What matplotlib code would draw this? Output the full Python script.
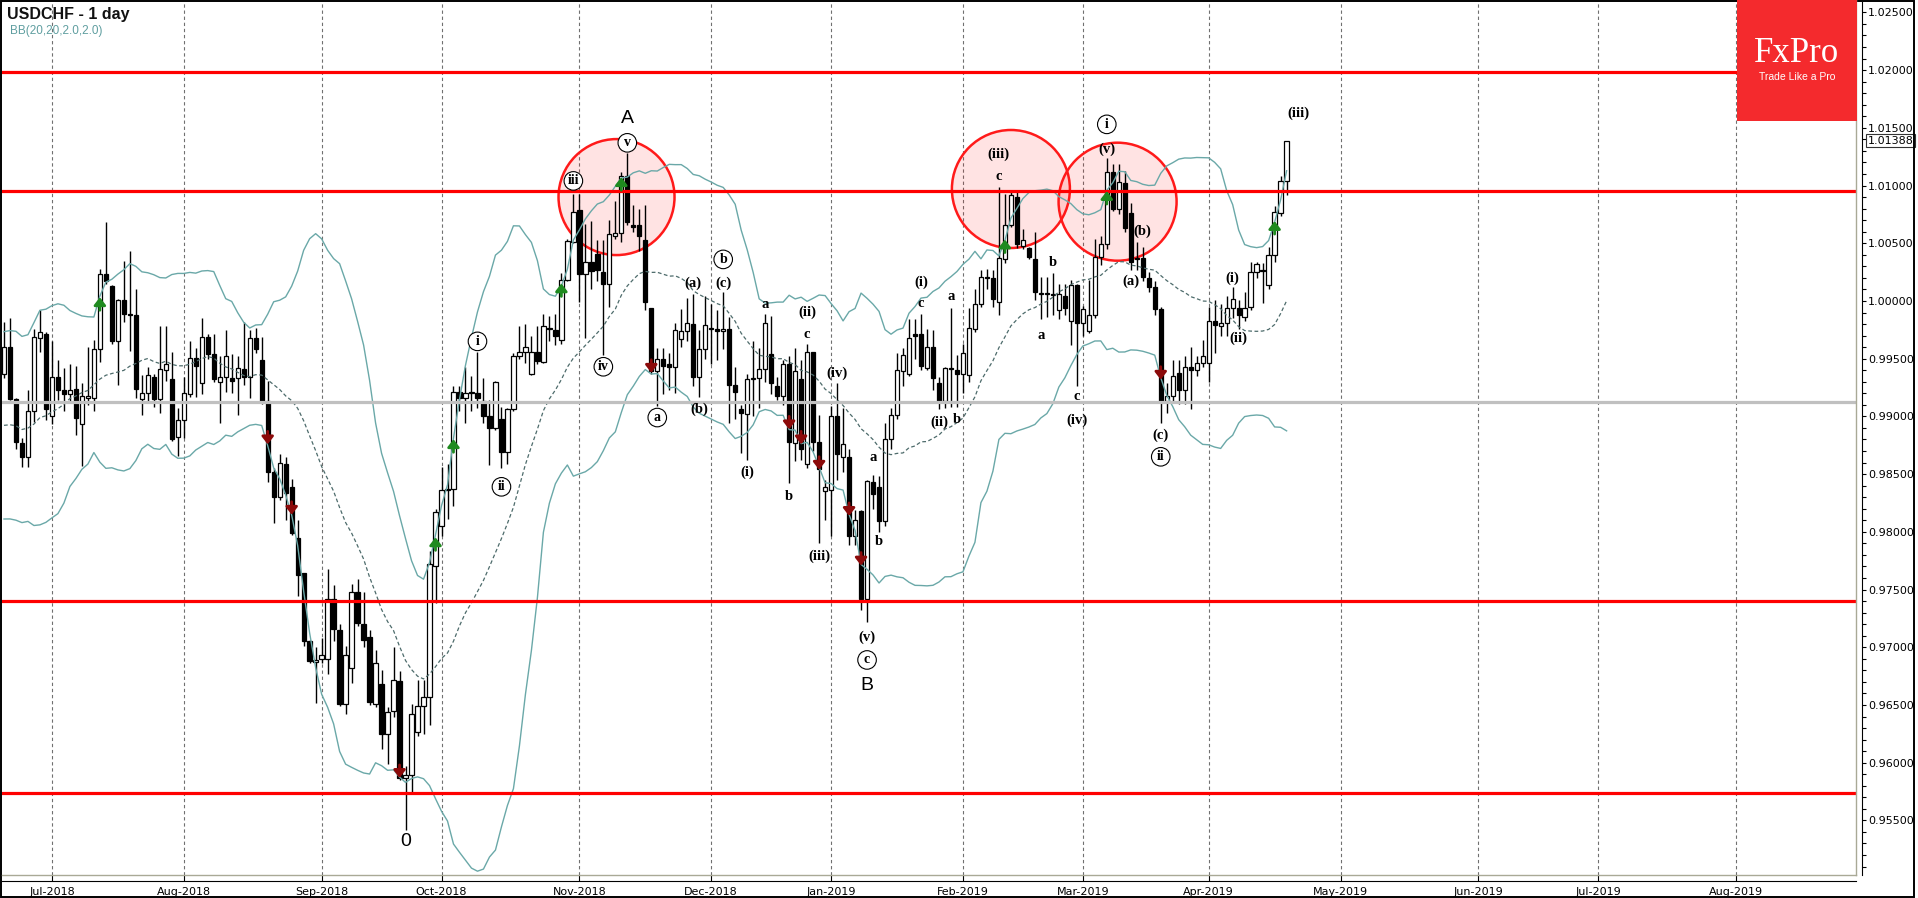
import matplotlib
matplotlib.use('Agg')
import matplotlib.pyplot as plt
import numpy as np
import pandas as pd
from matplotlib.patches import Ellipse, Rectangle
from matplotlib.lines import Line2D
from matplotlib.ticker import MultipleLocator
from matplotlib.transforms import blended_transform_factory

# closes before the first visible bar, only used to warm up the Bollinger bands
warmup_close = [0.9905, 0.9895, 0.9930, 0.9880, 0.9900, 0.9860, 0.9875, 0.9865, 0.9870, 0.9840,
                0.9825, 0.9855, 0.9860, 0.9880, 0.9860, 0.9925, 0.9950, 0.9935, 0.9975]

# daily candles from 2018-06-20 to 2019-04-18
opens = [
    .9937, .9960, .9915, .9877, .9865, .9905, .9968, .9971, .9900, .9934,
    .9923, .9919, .9924, .9893, .9916, .9916, .9958, 1.0023, 1.0013, .9965,
    1.0001, .9989, .9988, .9915, .9920, .9934, .9915, .9940, .9932, .9882,
    .9897, .9919, .9951, .9929, .9969, .9954, .9930, .9934, .9933, .9933,
    .9941, .9934, .9968, .9949, .9913, .9852, .9830, .9859, .9839, .9795,
    .9764, .9705, .9687, .9690, .9690, .9742, .9715, .9651, .9682, .9748,
    .9720, .9709, .9651, .9668, .9625, .9645, .9671, .9587, .9589, .9627,
    .9649, .9657, .9770, .9805, .9836, .9837, .9921, .9916, .9921, .9920,
    .9913, .9900, .9890, .9898, .9869, .9906, .9952, .9956, .9937, .9956,
    .9947, .9977, .9975, .9966, 1.0018, 1.0051, 1.0079, 1.0023, 1.0034, 1.0041,
    1.0025, 1.0015, 1.0056, 1.0059, 1.0108, 1.0066, 1.0066, 1.0053, .9994, .9939,
    .9950, .9945, .9943, .9967, .9974, .9980, .9934, .9958, .9977, .9976,
    .9974, .9976, .9927, .9906, .9902, .9932, .9933, .9941, .9954, .9926,
    .9918, .9945, .9877, .9932, .9859, .9956, .9878, .9835, .9836, .9900,
    .9865, .9865, .9796, .9818, .9742, .9843, .9839, .9809, .9880, .9901,
    .9939, .9937, .9971, .9971, .9942, .9960, .9929, .9913, .9942, .9940,
    .9937, .9936, .9976, .9997, 1.0021, 1.0020, .9999, 1.0036, 1.0066, 1.0090,
    1.0048, 1.0046, 1.0036, 1.0007, 1.0006, 1.0006, .9992, 1.0004, .9983, 1.0014,
    .9981, .9974, .9988, 1.0038, 1.0049, 1.0112, 1.0080, 1.0102, 1.0076, 1.0037,
    1.0037, 1.0020, 1.0012, .9993, .9913, .9918, .9938, .9923, .9943, .9940,
    .9946, .9946, .9983, .9978, .9981, .9994, .9994, .9986, .9995, 1.0025,
    1.0027, 1.0014, 1.0040, 1.0076, 1.0104,
]
highs = [
    .9982, .9985, .9916, .9881, .9923, .9976, .9992, .9973, .9965, .9949,
    .9942, .9945, .9944, .9929, .9960, .9966, 1.0028, 1.0068, 1.0014, 1.0002,
    1.0035, 1.0043, 1.0010, .9936, .9943, .9937, .9978, .9978, .9956, .9907,
    .9934, .9965, .9959, .9985, .9971, .9971, .9952, .9975, .9954, .9952,
    .9982, .9975, .9977, .9969, .9931, .9855, .9867, .9865, .9846, .9810,
    .9764, .9706, .9700, .9708, .9768, .9754, .9720, .9701, .9755, .9759,
    .9748, .9715, .9698, .9680, .9648, .9700, .9679, .9597, .9651, .9672,
    .9672, .9783, .9820, .9856, .9859, .9926, .9926, .9943, .9935, .9956,
    .9933, .9914, .9931, .9908, .9907, .9955, .9978, .9980, .9970, .9978,
    .9989, .9987, .9989, 1.0024, 1.0054, 1.0093, 1.0093, 1.0067, 1.0069, 1.0053,
    1.0053, 1.0070, 1.0087, 1.0112, 1.0128, 1.0083, 1.0080, 1.0083, .9994, .9959,
    .9959, .9955, .9981, .9993, 1.0003, 1.0006, .9975, 1.0004, .9997, .9992,
    1.0008, .9986, .9943, .9910, .9937, .9965, .9959, .9989, .9987, .9934,
    .9949, .9952, .9959, .9949, .9963, .9956, .9901, .9845, .9909, .9929,
    .9907, .9872, .9819, .9819, .9845, .9849, .9848, .9894, .9907, .9955,
    .9959, .9984, .9984, .9989, .9976, .9975, .9934, .9943, .9994, .9953,
    .9963, .9994, 1.0010, 1.0027, 1.0028, 1.0027, 1.0099, 1.0093, 1.0096, 1.0096,
    1.0062, 1.0047, 1.0060, 1.0021, 1.0021, 1.0024, 1.0015, 1.0015, 1.0018, 1.0015,
    .9996, 1.0018, 1.0054, 1.0056, 1.0124, 1.0119, 1.0119, 1.0113, 1.0085, 1.0051,
    1.0047, 1.0025, 1.0017, .9995, .9929, .9949, .9949, .9952, .9960, .9952,
    .9966, .9995, 1.0001, .9997, 1.0004, 1.0012, 1.0001, 1.0008, 1.0034, 1.0034,
    1.0033, 1.0047, 1.0082, 1.0108, 1.0139,
]
lows = [
    .9933, .9914, .9872, .9856, .9856, .9895, .9956, .9897, .9893, .9914,
    .9905, .9913, .9884, .9857, .9910, .9905, .9947, 1.0015, .9963, .9927,
    .9982, .9957, .9916, .9901, .9913, .9908, .9903, .9931, .9879, .9866,
    .9881, .9917, .9917, .9919, .9950, .9930, .9894, .9921, .9920, .9901,
    .9927, .9916, .9955, .9911, .9843, .9808, .9828, .9810, .9797, .9744,
    .9701, .9686, .9652, .9686, .9677, .9705, .9649, .9642, .9669, .9718,
    .9700, .9650, .9648, .9612, .9599, .9640, .9585, .9542, .9575, .9623,
    .9625, .9633, .9738, .9796, .9811, .9822, .9905, .9894, .9905, .9907,
    .9894, .9858, .9888, .9855, .9859, .9905, .9950, .9946, .9936, .9945,
    .9946, .9965, .9962, .9963, 1.0017, 1.0050, .9999, .9968, 1.0010, 1.0017,
    .9953, .9995, 1.0054, 1.0051, 1.0066, 1.0060, 1.0043, .9992, .9937, .9909,
    .9919, .9923, .9920, .9960, .9965, .9926, .9917, .9950, .9945, .9949,
    .9958, .9894, .9898, .9868, .9862, .9900, .9907, .9930, .9919, .9914,
    .9910, .9842, .9861, .9862, .9855, .9870, .9790, .9810, .9796, .9845,
    .9852, .9789, .9789, .9732, .9722, .9820, .9800, .9805, .9872, .9898,
    .9926, .9935, .9950, .9940, .9940, .9923, .9906, .9907, .9908, .9908,
    .9920, .9930, .9973, .9995, 1.0010, .9995, .9988, 1.0033, 1.0064, 1.0046,
    1.0045, 1.0036, 1.0001, .9984, .9986, .9988, .9984, .9988, .9962, .9926,
    .9970, .9972, .9985, 1.0031, 1.0045, 1.0078, 1.0075, 1.0060, 1.0027, 1.0027,
    1.0017, 1.0008, .9988, .9894, .9903, .9912, .9911, .9911, .9906, .9935,
    .9943, .9930, .9955, .9970, .9970, .9985, .9976, .9983, .9992, 1.0020,
    .9998, 1.0010, 1.0034, 1.0074, 1.0092,
]
closes = [
    .9960, .9915, .9878, .9865, .9905, .9969, .9973, .9906, .9934, .9923,
    .9919, .9923, .9899, .9918, .9918, .9958, 1.0023, 1.0017, .9965, 1.0001,
    .9989, .9988, .9924, .9920, .9936, .9915, .9941, .9945, .9880, .9897,
    .9920, .9951, .9944, .9969, .9954, .9932, .9934, .9952, .9931, .9942,
    .9934, .9968, .9958, .9913, .9852, .9830, .9860, .9834, .9799, .9763,
    .9705, .9688, .9689, .9693, .9742, .9716, .9651, .9693, .9748, .9721,
    .9706, .9653, .9686, .9625, .9644, .9672, .9587, .9589, .9642, .9649,
    .9657, .9772, .9817, .9836, .9837, .9921, .9916, .9920, .9920, .9916,
    .9900, .9890, .9930, .9869, .9906, .9952, .9956, .9960, .9956, .9948,
    .9978, .9976, .9970, 1.0018, 1.0052, 1.0077, 1.0023, 1.0034, 1.0026, 1.0027,
    1.0015, 1.0058, 1.0059, 1.0108, 1.0068, 1.0064, 1.0056, .9999, .9939, .9950,
    .9944, .9943, .9975, .9974, .9981, .9934, .9958, .9979, .9976, .9974,
    .9976, .9927, .9921, .9903, .9932, .9933, .9941, .9981, .9929, .9918,
    .9945, .9878, .9939, .9872, .9956, .9878, .9854, .9839, .9900, .9867,
    .9876, .9796, .9810, .9742, .9844, .9833, .9809, .9880, .9901, .9940,
    .9953, .9968, .9970, .9944, .9960, .9933, .9913, .9942, .9941, .9937,
    .9955, .9977, .9997, 1.0021, 1.0020, 1.0002, 1.0037, 1.0066, 1.0092, 1.0049,
    1.0053, 1.0038, 1.0008, 1.0006, 1.0006, 1.0005, 1.0006, .9994, 1.0014, .9981,
    .9993, .9988, 1.0038, 1.0049, 1.0112, 1.0080, 1.0103, 1.0063, 1.0034, 1.0036,
    1.0021, 1.0012, .9993, .9913, .9918, .9935, .9923, .9943, .9940, .9946,
    .9952, .9983, .9979, .9981, .9994, 1.0002, .9988, .9994, 1.0025, 1.0032,
    1.0026, 1.0040, 1.0077, 1.0104, 1.01388,
]

support_resistance = [1.01985, 1.00955, 0.97405, 0.95737]
pivot_level = 0.99125
last_price = 1.01388

# (text, bar index from 2018-07-02, price, kind)
wave_labels = [
    ('0', 59, 0.9532, 'big'), ('A', 96, 1.0158, 'big'), ('B', 136, 0.9667, 'big'),
    ('v', 96, 1.0137, 'circ'), ('iii', 87, 1.0104, 'circ'), ('iv', 92, 0.9943, 'circ'),
    ('a', 101, 0.9899, 'circ'), ('i', 71, 0.9965, 'circ'), ('ii', 75, 0.9839, 'circ'),
    ('(a)', 107, 1.0015, 'txt'), ('(b)', 108, 0.9906, 'txt'), ('b', 112, 1.0036, 'circ'),
    ('(c)', 112, 1.0015, 'txt'), ('(i)', 116, 0.9852, 'txt'), ('a', 119, 0.9997, 'txt'),
    ('(ii)', 126, 0.9990, 'txt'), ('c', 126, 0.9971, 'txt'), ('b', 123, 0.9831, 'txt'),
    ('(iii)', 128, 0.9779, 'txt'), ('(iv)', 131, 0.9937, 'txt'), ('(v)', 136, 0.9709, 'txt'),
    ('c', 136, 0.9689, 'circ'), ('a', 137, 0.9864, 'txt'), ('b', 138, 0.9792, 'txt'),
    ('(i)', 145, 1.0016, 'txt'), ('c', 145, 0.9998, 'txt'), ('a', 150, 1.0004, 'txt'),
    ('(ii)', 148, 0.9895, 'txt'), ('b', 151, 0.9897, 'txt'), ('(iii)', 158, 1.0127, 'txt'),
    ('c', 158, 1.0108, 'txt'), ('b', 167, 1.0033, 'txt'), ('a', 165, 0.9970, 'txt'),
    ('c', 171, 0.9917, 'txt'), ('(iv)', 171, 0.9897, 'txt'), ('i', 176, 1.0153, 'circ'),
    ('(v)', 176, 1.0131, 'txt'), ('(b)', 182, 1.0060, 'txt'), ('(a)', 180, 1.0017, 'txt'),
    ('(c)', 185, 0.9884, 'txt'), ('ii', 185, 0.9865, 'circ'), ('(i)', 197, 1.0020, 'txt'),
    ('(ii)', 198, 0.9968, 'txt'), ('(iii)', 208, 1.0163, 'txt'),
]
up_arrows = [(8, 0.9998), (64, 0.9790), (67, 0.9875), (85, 1.0010), (95, 1.0102),
             (159, 1.0048), (176, 1.0090), (204, 1.0064)]
down_arrows = [(36, 0.9881), (40, 0.9820), (58, 0.9592), (100, 0.9943), (123, 0.9894),
               (125, 0.9881), (128, 0.9859), (133, 0.9819), (135, 0.9776), (185, 0.9937)]
# highlighted zones: bar, price, radius in pixels
zones = [(94.2, 1.0090, 58), (160, 1.0097, 59), (177.8, 1.0086, 59)]

# trading calendar (no weekends, no Christmas / New Year)
days = pd.bdate_range('2018-05-24', '2019-09-30')
days = days[~days.isin(pd.to_datetime(['2018-12-25', '2019-01-01']))]
xall = np.arange(len(days)) - days.get_loc(pd.Timestamp('2018-07-02'))
nw = len(warmup_close)
x = xall[nw:nw + len(closes)]

s = pd.Series(warmup_close + closes)
mid = s.rolling(20).mean()
sd = s.rolling(20).std(ddof=0)
upper = (mid + 2 * sd).values[nw:]
lower = (mid - 2 * sd).values[nw:]
mid = mid.values[nw:]

W, H = 1918, 898
fig = plt.figure(figsize=(W / 100, H / 100), dpi=100)
ax = fig.add_axes([2 / W, 1 - 875 / H, 1854 / W, 873 / H])
x0, x1 = -8.33, 301
y0, y1 = 0.95027, 1.02590
ax.set_xlim(x0, x1)
ax.set_ylim(y0, y1)
dx = (x1 - x0) / 1854  # data per pixel
dy = (y1 - y0) / 873

o, h, l, c = map(np.array, (opens, highs, lows, closes))
up = c >= o
blo = np.minimum(o, c)
bh = np.maximum(np.abs(c - o), 0.7 * dy)
ax.vlines(x, l, h, color='black', lw=1, zorder=3)
ax.bar(x[up], bh[up], bottom=blo[up], width=0.72, color='white', edgecolor='black', lw=0.9, zorder=4)
ax.bar(x[~up], bh[~up], bottom=blo[~up], width=0.72, color='black', edgecolor='black', lw=0.9, zorder=4)

ax.plot(x, upper, color='#6aa8a8', lw=1.0, zorder=5)
ax.plot(x, lower, color='#6aa8a8', lw=1.0, zorder=5)
ax.plot(x, mid, color='#4d6b6b', lw=0.9, ls=(0, (3, 2)), zorder=5)

for lvl in support_resistance:
    ax.axhline(lvl, color='#ff0000', lw=2.3, zorder=6)
ax.axhline(pivot_level, color='#c0c0c0', lw=2.3, zorder=6)

for b, p, r in zones:
    ax.add_patch(Ellipse((b, p), 2 * r * dx, 2 * r * dy, fc=(1, 0, 0, 0.11), ec='#ff1a1a', lw=1.8, zorder=1))

for b, p in up_arrows:
    ax.annotate('', xy=(b, p + 6 * dy), xytext=(b, p - 7 * dy),
                arrowprops=dict(arrowstyle='-|>,head_length=0.45,head_width=0.35', color='#1f8a1f', lw=2.0,
                                shrinkA=0, shrinkB=0), zorder=7)
for b, p in down_arrows:
    ax.annotate('', xy=(b, p - 6 * dy), xytext=(b, p + 7 * dy),
                arrowprops=dict(arrowstyle='-|>,head_length=0.45,head_width=0.35', color='#8b0a0a', lw=2.0,
                                shrinkA=0, shrinkB=0), zorder=7)

for txt, b, p, kind in wave_labels:
    if kind == 'big':
        ax.text(b, p, txt, fontsize=14, family='Liberation Sans', ha='center', va='center', zorder=8)
    elif kind == 'circ':
        ax.text(b, p, txt, fontsize=10, family='Liberation Serif', fontweight='bold', ha='center', va='center',
                zorder=8, bbox=dict(boxstyle='circle,pad=0.2', fc='white', ec='black', lw=0.8))
    else:
        ax.text(b, p, txt, fontsize=10.5, family='Liberation Serif', fontweight='bold', ha='center', va='center',
                zorder=8)

# month ticks at first trading day of each month
ser = pd.Series(xall, index=days)
firsts = ser.groupby([days.year, days.month]).first()
mdays = ser.index[ser.isin(firsts.values)]
mpos = [v for v, d in zip(firsts.values, mdays) if x0 < v < x1]
mlab = [d.strftime('%b-%Y') for v, d in zip(firsts.values, mdays) if x0 < v < x1]
ax.set_xticks(mpos)
ax.set_xticklabels(mlab)
ax.grid(axis='x', color='#707070', lw=0.8, ls=(0, (3, 2.5)), zorder=0)
ax.set_axisbelow(True)

ax.yaxis.tick_right()
yt = np.arange(0.955, 1.0251, 0.005)
ax.set_yticks(yt)
ax.set_yticklabels([f'{v:.5f}' for v in yt])
ax.yaxis.set_minor_locator(MultipleLocator(0.001))
for side in ['left', 'top']:
    ax.spines[side].set_visible(False)
for side in ['right', 'bottom']:
    ax.spines[side].set_position(('outward', 4.3))
    ax.spines[side].set_color('black')
ax.tick_params(axis='y', which='both', direction='out', length=3, width=0.8, labelsize=8, pad=1.5)
ax.tick_params(axis='x', direction='in', length=4, width=0.8, labelsize=8, pad=4)

# price tag for the last close
tr = blended_transform_factory(ax.transAxes, ax.transData)
ax.text(1.0062, last_price, f'{last_price:.5f}', transform=tr, fontsize=8, ha='left', va='center', zorder=9,
        bbox=dict(boxstyle='square,pad=0.15', fc='white', ec='#333333', lw=0.8), clip_on=False)

# plot-area border and outer frame
fig.add_artist(Line2D([2 / W, 1856 / W], [1 - 875 / H] * 2, color='#a9a996', lw=1))
fig.add_artist(Line2D([1856 / W] * 2, [1 - 875 / H, 1], color='#a9a996', lw=1))
fig.add_artist(Rectangle((1 / W, 1 / H), 1913 / W, 896 / H, transform=fig.transFigure, fill=False,
                         ec='black', lw=1.4))

fig.text(7 / W, 1 - 14 / H, 'USDCHF - 1 day', fontsize=11.5, fontweight='bold', family='Liberation Sans',
         va='center', color='#111111')
fig.text(10 / W, 1 - 31 / H, 'BB(20,20,2.0,2.0)', fontsize=8.5, family='Liberation Sans', va='center',
         color='#5f9ea0')

# logo
fig.add_artist(Rectangle((1737 / W, 1 - 121 / H), 120 / W, 121 / H, transform=fig.transFigure,
                         fc='#f42a2d', ec='none', zorder=10))
fig.text(1797 / W, 1 - 54 / H, 'FxPro', fontsize=25, family='Liberation Serif', color='white', ha='center',
         va='center', zorder=11)
fig.text(1797 / W, 1 - 77 / H, 'Trade Like a Pro', fontsize=7.5, family='Liberation Sans', color='white',
         ha='center', va='center', zorder=11)

fig.savefig('out.png', dpi=100)
